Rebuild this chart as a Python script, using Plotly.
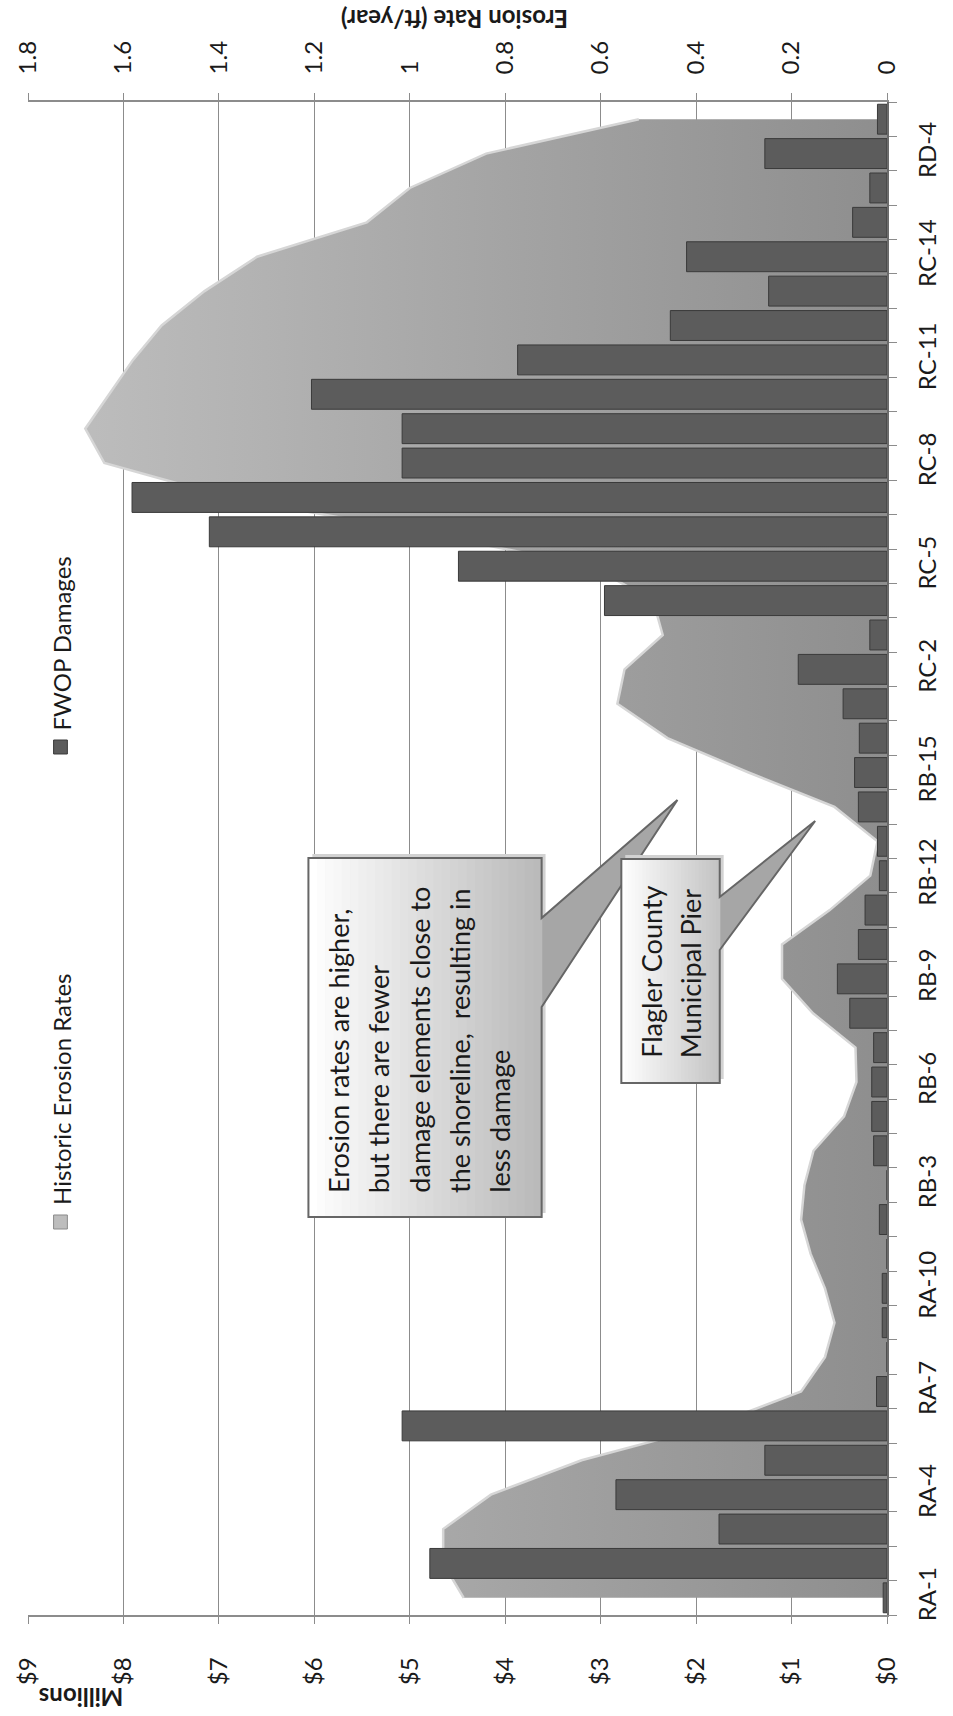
import plotly.graph_objects as go

# ---------------------------------------------------------------------------
# Data: shoreline segments listed from RA-1 (bottom) to the northern end (top)
# ---------------------------------------------------------------------------
segments = [
    "RA-1", "RA-2", "RA-3", "RA-4", "RA-5", "RA-6", "RA-7", "RA-8", "RA-9", "RA-10",
    "RB-1", "RB-2", "RB-3", "RB-4", "RB-5", "RB-6", "RB-7", "RB-8", "RB-9", "RB-10",
    "RB-11", "RB-12", "RB-13", "RB-14", "RB-15", "RB-16",
    "RC-1", "RC-2", "RC-3", "RC-4", "RC-5", "RC-6", "RC-7", "RC-8", "RC-9", "RC-10",
    "RC-11", "RC-12", "RC-13", "RC-14",
    "RD-2", "RD-3", "RD-4", "RD-5",
]

# Future-without-project damages, millions of dollars
fwop_damages = [
    0.04, 4.79, 1.76, 2.84, 1.28, 5.08, 0.11, 0.00, 0.05, 0.05,
    0.00, 0.08, 0.00, 0.14, 0.16, 0.16, 0.14, 0.39, 0.52, 0.30,
    0.23, 0.08, 0.10, 0.30, 0.34, 0.29,
    0.46, 0.93, 0.18, 2.96, 4.49, 7.10, 7.91, 5.08, 5.08, 6.03,
    3.87, 2.27, 1.24, 2.10,
    0.36, 0.18, 1.28, 0.10,
]

# Historic erosion rates, ft/year
erosion_rates = [
    0.887, 0.93, 0.93, 0.83, 0.64, 0.37, 0.18, 0.13, 0.11, 0.13,
    0.16, 0.18, 0.173, 0.154, 0.09, 0.064, 0.066, 0.155, 0.22, 0.22,
    0.12, 0.035, 0.02, 0.11, 0.29, 0.46,
    0.565, 0.55, 0.47, 0.49, 0.62, 0.98, 1.38, 1.64, 1.68, 1.63,
    1.58, 1.52, 1.43, 1.32,
    1.09, 1.00, 0.84, 0.52,
]

erosion_ticks = [0, 0.2, 0.4, 0.6, 0.8, 1.0, 1.2, 1.4, 1.6, 1.8]
erosion_tick_text = ["0", "0.2", "0.4", "0.6", "0.8", "1", "1.2", "1.4", "1.6", "1.8"]
damage_ticks = [0, 1, 2, 3, 4, 5, 6, 7, 8, 9]
damage_tick_text = ["$0", "$1", "$2", "$3", "$4", "$5", "$6", "$7", "$8", "$9"]

# only every third segment carries a label
segment_tick_text = [name if i % 3 == 0 else "" for i, name in enumerate(segments)]

# ---------------------------------------------------------------------------
# Page geometry (pixels) and a helper to place decorations in paper units
# ---------------------------------------------------------------------------
W, H = 953, 1716
L, R, T, B = 22, 58, 102, 101
PW, PH = W - L - R, H - T - B


def paper(px, py):
    return (px - L) / PW, 1 - (py - T) / PH


def path_of(points):
    parts = []
    for i, (px, py) in enumerate(points):
        x, y = paper(px, py)
        parts.append(("M" if i == 0 else "L") + f"{x:.5f},{y:.5f}")
    return " ".join(parts) + " Z"


FONT = "Lato, 'Open Sans', sans-serif"
TEXT = "#1a1a1a"
GRID = "#8c8c8c"

fig = go.Figure()

# Erosion-rate area (drawn first so the bars sit on top of it)
fig.add_trace(go.Scatter(
    x=erosion_rates, y=segments, xaxis="x", yaxis="y",
    mode="lines", fill="tozerox",
    line=dict(color="#d6d6d6", width=2.5),
    fillgradient=dict(type="horizontal",
                      colorscale=[[0, "#8d8d8d"], [1, "#bdbdbd"]],
                      start=0, stop=1.7),
    name="Historic Erosion Rates", hoverinfo="skip",
))

# FWOP damage bars
fig.add_trace(go.Bar(
    x=fwop_damages, y=segments, orientation="h", xaxis="x2", yaxis="y",
    marker=dict(color="#5c5c5c", line=dict(color="#3a3a3a", width=1)),
    name="FWOP Damages",
))

shapes = []
annotations = []


def add_callout(x0, y0, x1, y1, base_top, base_bottom, tip, right_color):
    # soft shadow
    shapes.append(dict(type="path", xref="paper", yref="paper", layer="above",
                       path=path_of([(x0 + 4, y0 - 4), (x1 + 4, y0 - 4),
                                     (x1 + 4, y1 - 4), (x0 + 4, y1 - 4)]),
                       fillcolor="#d2d2d2", line=dict(width=0)))
    # pointer
    shapes.append(dict(type="path", xref="paper", yref="paper", layer="above",
                       path=path_of([(x1, base_top), tip, (x1, base_bottom)]),
                       fillcolor="#a6a6a6", line=dict(width=0)))
    # white-to-grey gradient body
    n = 28
    c0 = (255, 255, 255)
    c1 = tuple(int(right_color[i:i + 2], 16) for i in (1, 3, 5))
    for k in range(n):
        t = k / (n - 1)
        col = "#%02x%02x%02x" % tuple(int(c0[j] + (c1[j] - c0[j]) * t) for j in range(3))
        sx0 = x0 + (x1 - x0) * k / n
        sx1 = x0 + (x1 - x0) * (k + 1) / n + 0.6
        shapes.append(dict(type="path", xref="paper", yref="paper", layer="above",
                           path=path_of([(sx0, y0), (sx1, y0), (sx1, y1), (sx0, y1)]),
                           fillcolor=col, line=dict(width=0)))
    # outline of box + pointer
    shapes.append(dict(type="path", xref="paper", yref="paper", layer="above",
                       path=path_of([(x0, y0), (x1, y0), (x1, base_top), tip,
                                     (x1, base_bottom), (x1, y1), (x0, y1)]),
                       fillcolor="rgba(0,0,0,0)", line=dict(color="#666666", width=2)))


add_callout(307, 858, 544, 1217, 918, 1007, (682, 800), "#bababa")
add_callout(625, 859, 725, 1083, 897, 950, (822, 821), "#c4c4c4")


def rotated_line(text, cx, bottom, size=27):
    x, y = paper(cx, bottom)
    annotations.append(dict(text=text, x=x, y=y, xref="paper", yref="paper",
                            xanchor="center", yanchor="bottom", textangle=-90,
                            showarrow=False, font=dict(family=FONT, size=size, color=TEXT)))


callout_lines = ["Erosion rates are higher,", "but there are fewer",
                 "damage elements close to", "the shoreline,  resulting in", "less damage"]
for i, line in enumerate(callout_lines):
    rotated_line(line, 337 + 41 * i, 1195)

pier_lines = ["Flagler County", "Municipal Pier"]
for i, line in enumerate(pier_lines):
    rotated_line(line, 655 + 40 * i, 1060)

# Legend drawn as rotated text with bevel-style swatches
legend_items = [("Historic Erosion Rates", 1207, "#bdbdbd", "#8a8a8a"),
                ("FWOP Damages", 732, "#5c5c5c", "#3a3a3a")]
for label, bottom, fill, edge in legend_items:
    rotated_line(label, 56, bottom, size=24)
    shapes.append(dict(type="path", xref="paper", yref="paper", layer="above",
                       path=path_of([(48, bottom + 8), (62, bottom + 8),
                                     (62, bottom + 22), (48, bottom + 22)]),
                       fillcolor=fill, line=dict(color=edge, width=1)))

# Axis titles
tx, ty = paper(456, 20)
annotations.append(dict(text="<b>Erosion Rate (ft/year)</b>", x=tx, y=ty,
                        xref="paper", yref="paper", xanchor="center", yanchor="middle",
                        textangle=180, showarrow=False,
                        font=dict(family=FONT, size=24, color=TEXT)))
mx, my = paper(76, 1698)
annotations.append(dict(text="<b>Millions</b>", x=mx, y=my,
                        xref="paper", yref="paper", xanchor="center", yanchor="middle",
                        textangle=180, showarrow=False,
                        font=dict(family=FONT, size=24, color=TEXT)))

tick_font = dict(family=FONT, size=24, color=TEXT)

fig.update_layout(
    width=W, height=H,
    margin=dict(l=L, r=R, t=T, b=B, pad=0),
    paper_bgcolor="white", plot_bgcolor="white",
    showlegend=False, bargap=0.13,
    font=dict(family=FONT, size=24, color=TEXT),
    xaxis=dict(
        side="top", range=[1.8, 0], anchor="y",
        tickmode="array", tickvals=erosion_ticks, ticktext=erosion_tick_text,
        tickangle=-90, tickfont=tick_font, ticklabelstandoff=14,
        showgrid=True, gridcolor=GRID, gridwidth=1, zeroline=False,
        showline=True, linecolor=GRID, linewidth=1.5,
        ticks="outside", ticklen=7, tickcolor=GRID,
    ),
    xaxis2=dict(
        overlaying="x", side="bottom", range=[9, 0], anchor="y",
        tickmode="array", tickvals=damage_ticks, ticktext=damage_tick_text,
        tickangle=-90, tickfont=tick_font, ticklabelstandoff=24,
        showgrid=False, zeroline=False,
        showline=True, linecolor=GRID, linewidth=1.5,
        ticks="outside", ticklen=7, tickcolor=GRID,
    ),
    yaxis=dict(
        type="category", categoryorder="array", categoryarray=segments,
        range=[-0.5, len(segments) - 0.5], side="right",
        tickmode="array", tickvals=segments, ticktext=segment_tick_text,
        tickson="boundaries", tickangle=-90, tickfont=tick_font, ticklabelstandoff=18,
        showgrid=False, zeroline=False,
        showline=True, linecolor="#6b6b6b", linewidth=2,
        ticks="outside", ticklen=8, tickcolor=GRID,
    ),
    shapes=shapes,
    annotations=annotations,
)

fig.write_html("out.html")
